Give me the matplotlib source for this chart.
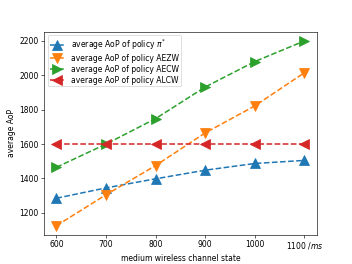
import numpy as np
import matplotlib
matplotlib.use("Agg")
import matplotlib.pyplot as plt

# 横轴：中等无线信道状态 (ms)
x = [600, 700, 800, 900, 1000, 1100]
xticklabels = ['600', '700', '800', '900', '1000', '1100 $/ms$']

# 各策略的平均 AoP
aop_pi = [1285, 1345, 1398, 1448, 1487, 1505]
aop_aezw = [1125, 1305, 1475, 1665, 1822, 2015]
aop_aecw = [1465, 1600, 1748, 1932, 2080, 2200]
aop_alcw = [1600, 1600, 1600, 1600, 1600, 1600]

fig = plt.figure(figsize=(6.4, 4.8), dpi=55)
ax = fig.add_subplot(111)

ax.plot(x, aop_pi, '--^', lw=2, markersize=12, label=r'average AoP of policy $\pi^{*}$')
ax.plot(x, aop_aezw, '--v', lw=2, markersize=12, label='average AoP of policy AEZW')
ax.plot(x, aop_aecw, '-->', lw=2, markersize=12, label='average AoP of policy AECW')
ax.plot(x, aop_alcw, '--<', lw=2, markersize=12, label='average AoP of policy ALCW')

ax.set_xticks(x)
ax.set_xticklabels(xticklabels)
ax.set_xlabel('medium wireless channel state')
ax.set_ylabel('average AoP')
ax.legend(loc='upper left', labelspacing=0.25, borderpad=0.25)

fig.savefig('out.png', dpi=55)
